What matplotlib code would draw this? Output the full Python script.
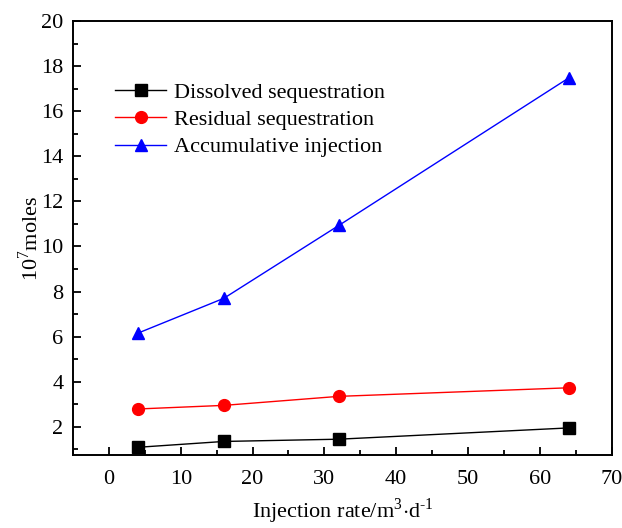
import matplotlib
matplotlib.use("Agg")
import matplotlib.pyplot as plt
from matplotlib.ticker import MultipleLocator

plt.rcParams['font.family'] = ['Liberation Serif', 'DejaVu Serif']
plt.rcParams['mathtext.fontset'] = 'custom'
plt.rcParams['mathtext.rm'] = 'Liberation Serif'

rates = [4, 16, 32, 64]
dissolved = [1.09, 1.35, 1.45, 1.95]
residual = [2.79, 2.95, 3.35, 3.73]
accumulative = [6.15, 7.70, 10.93, 17.47]

fig = plt.figure(figsize=(6.22, 5.28), dpi=100)
ax = fig.add_axes([0.1174, 0.1383, 0.866, 0.8219])

ax.plot(rates, dissolved, color='black', marker='s', markersize=8, lw=1, label='Dissolved sequestration')
ax.plot(rates, residual, color='red', marker='o', markersize=8.5, lw=1, label='Residual sequestration')
ax.plot(rates, accumulative, color='blue', marker='^', markersize=9, lw=1, label='Accumulative injection')

ax.set_xlim(-5, 70)
ax.set_ylim(0.75, 20)
ax.xaxis.set_major_locator(MultipleLocator(10))
ax.xaxis.set_minor_locator(MultipleLocator(5))
ax.yaxis.set_major_locator(MultipleLocator(2))
ax.yaxis.set_minor_locator(MultipleLocator(1))
ax.set_yticks([2, 4, 6, 8, 10, 12, 14, 16, 18, 20])
ax.tick_params(which='both', direction='in', labelsize=16, width=1.3)
ax.tick_params(which='major', length=6)
ax.tick_params(which='minor', length=3.5)
ax.tick_params(axis='x', pad=11)
ax.tick_params(axis='y', pad=7)
for s in ax.spines.values():
    s.set_linewidth(1.4)

ax.set_xlabel('Injection rate/m$^{3}$$\\cdot$d$^{\\text{-}1}$', fontsize=16, labelpad=5)
ax.set_ylabel('10$^{7}$moles', fontsize=16, labelpad=-1)

ax.legend(loc='upper left', bbox_to_anchor=(0.062, 0.879), frameon=False, fontsize=16,
          handlelength=2.3, handletextpad=0.35, labelspacing=0.3, borderaxespad=0)

fig.savefig('out.png', dpi=100)
